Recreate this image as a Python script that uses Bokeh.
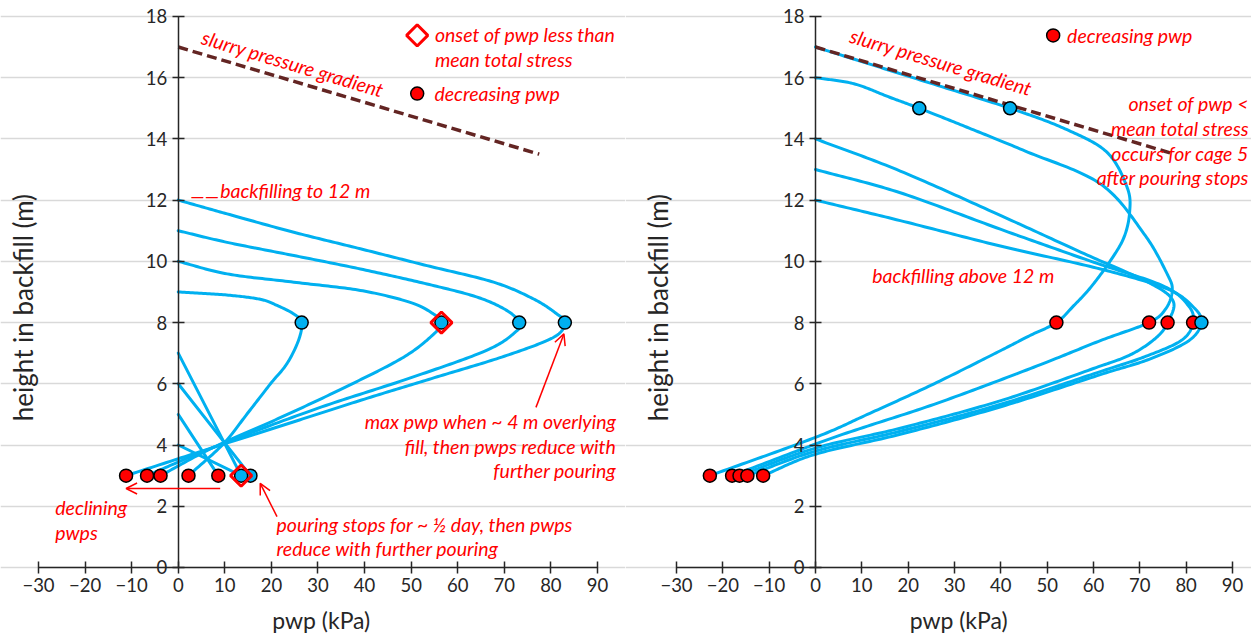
import numpy as np
from bokeh.plotting import figure
from bokeh.layouts import row
from bokeh.models import (LinearAxis, Range1d, Label, Arrow, OpenHead,
                          FixedTicker, Grid, AllLabels)
from bokeh.embed import file_html
from bokeh.resources import INLINE

BLUE = "#00B0F0"
RED = "#FF0000"
SLURRY = "#632523"
FONT = "Lato"
INK = "#262626"

# ---- data: pwp (kPa) against height in backfill (m) ----
x_ticks = list(range(-30, 91, 10))
y_ticks = list(range(0, 19, 2))

slurry_pwp = [0, 77.5]
slurry_h = [17, 13.5]

# backfilling to 12 m
L4_p, L4_h = [0, 13.5], [4, 3]
L5_p, L5_h = [0, 8.6], [5, 3]
L6_p, L6_h = [0, 15.5], [6, 3]
L7_p, L7_h = [0, 13.5], [7, 3]
L9_p = [0, 10.4, 17.6, 21.2, 24.8, 26.5, 25.8, 23.3, 19.8, 14.8, 9.7, 2.2]
L9_h = [9, 8.9, 8.76, 8.56, 8.28, 8, 7.41, 6.65, 6.0, 5.02, 4.04, 3]
L10_p = [0, 10.5, 24.8, 39.1, 49.8, 54.8, 56.5, 54.9, 48.4, 36, 22, 7.5, -3.8]
L10_h = [10, 9.59, 9.32, 9.05, 8.66, 8.28, 8, 7.63, 6.87, 5.9, 4.9, 3.92, 3]
L11_p = [0, 10.5, 24.8, 39.1, 53.4, 64.2, 70.6, 73.2, 72.6, 66.3, 50, 29, 7.5, -6.7]
L11_h = [11, 10.62, 10.19, 9.75, 9.26, 8.83, 8.39, 8, 7.72, 7.1, 6.2, 5.15, 3.92, 3]
L12_p = [0, 10.5, 24.8, 39.1, 53.4, 67.7, 76.3, 81.3, 83.0, 80.6, 70, 55, 40, 24, 7.5, -11.2]
L12_h = [12, 11.55, 10.95, 10.41, 9.86, 9.32, 8.77, 8.28, 8, 7.52, 6.9, 6.2, 5.5, 4.72, 3.92, 3]

left_blue_p = [15.5, 26.5, 56.5, 73.2, 83.0, 13.5]
left_blue_h = [3, 8, 8, 8, 8, 3]
left_red_p = [-11.2, -6.7, -3.8, 2.2, 8.6]
left_red_h = [3, 3, 3, 3, 3]
left_onset_p = [56.5, 13.5]
left_onset_h = [8, 3]

# backfilling above 12 m
R12_p = [0, 18.3, 39.9, 61.5, 75.9, 81.6, 83.3, 80.5, 72, 61.5, 40, 18.3, 0, -11.3]
R12_h = [12, 11.33, 10.5, 9.75, 9.1, 8.5, 8, 7.4, 6.8, 6.3, 5.25, 4.35, 3.7, 3]
R13_p = [0, 18.3, 39.9, 59.5, 75, 80.5, 81.5, 79, 71, 61.5, 40, 18.3, 0, -14.7]
R13_h = [13, 12.24, 11.05, 10.0, 9.2, 8.55, 8, 7.42, 6.88, 6.4, 5.33, 4.45, 3.8, 3]
R14_p = [0, 18.3, 39.9, 58, 72, 77.2, 76, 73.5, 68, 60, 40, 18.3, 0, -16.4]
R14_h = [14, 12.95, 11.5, 10.25, 9.3, 8.7, 8, 7.5, 6.95, 6.5, 5.45, 4.55, 3.9, 3]
R16_p = [0, 8.3, 16, 22.4, 32.7, 45.3, 61.5, 70.9, 75.9, 77, 75.6, 72, 61.5, 47.1, 25.6, 4, -18]
R16_h = [16, 15.8, 15.36, 15, 14.38, 13.6, 12.53, 10.9, 9.59, 9.05, 8.45, 8, 7.41, 6.54, 5.33, 4.25, 3]
R17_p = [0, 21, 42, 54.3, 63, 67.3, 67.8, 66.6, 63.7, 59.4, 55.8, 52, 46.2, 39.9, 25.6, 11.2, 0, -22.8]
R17_h = [17, 16.0, 15, 14.3, 13.55, 12.4, 11.6, 10.79, 10.03, 9.15, 8.56, 8, 7.57, 7.08, 6.0, 5.0, 4.25, 3]

right_red_p = [52, 72, 76, 81.5, -22.8, -18, -16.4, -14.7, -11.3]
right_red_h = [8, 8, 8, 8, 3, 3, 3, 3, 3]
right_blue_p = [22.4, 42, 83.3]
right_blue_h = [15, 15, 8]

# legend keys
key_onset = (51.3, 17.38)
key_red_left = (51.3, 15.48)
key_red_right = (51.3, 17.38)


def smooth(xs, ys, n=24):
    """Catmull-Rom curve through the profile points."""
    P = np.column_stack([xs, ys]).astype(float)
    if len(P) < 3:
        return list(P[:, 0]), list(P[:, 1])
    P = np.vstack([2 * P[0] - P[1], P, 2 * P[-1] - P[-2]])
    t = np.linspace(0, 1, n, endpoint=False)[:, None]
    out = []
    for i in range(1, len(P) - 2):
        p0, p1, p2, p3 = P[i - 1], P[i], P[i + 1], P[i + 2]
        out.append(0.5 * (2 * p1 + (-p0 + p2) * t
                          + (2 * p0 - 5 * p1 + 4 * p2 - p3) * t ** 2
                          + (-p0 + 3 * p1 - 3 * p2 + p3) * t ** 3))
    out.append(P[-2][None, :])
    out = np.vstack(out)
    return list(out[:, 0]), list(out[:, 1])


def panel(width, x_start, x_end, ylabel_x, xlabel_x):
    # the frame fills the whole canvas; axes sit at pwp = 0 and height = 0
    # and stop at the last tick, so the titles and notes can live in it
    p = figure(width=width, height=637, x_range=Range1d(x_start, x_end),
               y_range=Range1d(-2.287, 18.52),
               output_backend="svg", toolbar_location=None,
               x_axis_location=None, y_axis_location=None,
               min_border_left=0, min_border_right=0,
               min_border_top=0, min_border_bottom=0)
    p.center = [r for r in p.center if not isinstance(r, Grid)]
    p.outline_line_color = None
    p.background_fill_color = "white"
    p.border_fill_color = "white"

    yticker = FixedTicker(ticks=y_ticks)
    p.add_layout(Grid(dimension=1, ticker=yticker, grid_line_color="#D9D9D9",
                      grid_line_width=1.5, bounds=(-30, 90)))

    xaxis = LinearAxis(ticker=FixedTicker(ticks=x_ticks), fixed_location=0,
                       bounds=(-30, 90))
    yaxis = LinearAxis(ticker=yticker, fixed_location=0, bounds=(0, 18))
    for ax in (xaxis, yaxis):
        ax.axis_line_color = INK
        ax.axis_line_width = 1.5
        ax.major_tick_line_color = INK
        ax.major_tick_line_width = 1.5
        ax.major_tick_in = 6
        ax.major_tick_out = 6
        ax.minor_tick_line_color = None
        ax.major_label_text_font = FONT
        ax.major_label_text_font_size = "18.5px"
        ax.major_label_text_color = INK
        ax.major_label_policy = AllLabels()
    xaxis.major_label_standoff = 5
    yaxis.major_label_standoff = 5
    p.add_layout(xaxis, "below")
    p.add_layout(yaxis, "left")

    p.add_layout(Label(x=ylabel_x, y=8.49, text="height in backfill (m)", angle=np.pi / 2,
                       text_font=FONT, text_font_size="26px", text_color=INK,
                       text_align="center", text_baseline="middle"))
    p.add_layout(Label(x=xlabel_x, y=-1.73, text="pwp (kPa)",
                       text_font=FONT, text_font_size="23px", text_color=INK,
                       text_align="center", text_baseline="middle"))
    return p


def profile(p, xs, ys):
    sx, sy = smooth(xs, ys)
    p.line(sx, sy, line_color=BLUE, line_width=3, line_cap="round", line_join="round")


def note(p, x, y, text, align="left", angle=0.0):
    p.add_layout(Label(x=x, y=y, text=text, text_font=FONT, text_font_style="italic",
                       text_font_size="19.5px", text_color=RED, text_align=align,
                       text_baseline="middle", angle=angle))


def pointer(p, x0, y0, x1, y1):
    p.add_layout(Arrow(end=OpenHead(size=11, line_color=RED, line_width=1.5),
                       x_start=x0, y_start=y0, x_end=x1, y_end=y1,
                       line_color=RED, line_width=1.5))


def dots(p, xs, ys, color):
    p.scatter(xs, ys, marker="circle", size=13, fill_color=color,
              line_color="black", line_width=1.5)


def onset(p, xs, ys):
    p.scatter(xs, ys, marker="square", angle=np.pi / 4, size=15, fill_color=None,
              line_color=RED, line_width=3)


slope_angle = -0.29

# ---- left panel: backfilling to 12 m ----
left = panel(625, -38.16, 96.02, -33.4, 30.7)
for xs, ys in [(L4_p, L4_h), (L5_p, L5_h), (L6_p, L6_h), (L7_p, L7_h), (L9_p, L9_h),
               (L10_p, L10_h), (L11_p, L11_h), (L12_p, L12_h)]:
    profile(left, xs, ys)
left.line(slurry_pwp, slurry_h, line_color=SLURRY, line_width=3.5, line_dash="10 5")
dots(left, left_red_p, left_red_h, RED)
dots(left, left_blue_p, left_blue_h, BLUE)
onset(left, left_onset_p, left_onset_h)
onset(left, [key_onset[0]], [key_onset[1]])
dots(left, [key_red_left[0]], [key_red_left[1]], RED)

note(left, 55.1, 17.40, "onset of pwp less than")
note(left, 55.1, 16.59, "mean total stress")
note(left, 55.0, 15.47, "decreasing pwp")
note(left, 24.6, 16.46, "slurry pressure gradient", align="center", angle=slope_angle)
note(left, 2.6, 12.14, "\u2014\u2014")
note(left, 9.0, 12.31, "backfilling to 12 m")
note(left, 94.0, 4.77, "max pwp when ~ 4 m overlying", align="right")
note(left, 94.0, 3.96, "fill, then pwps reduce with", align="right")
note(left, 94.0, 3.16, "further pouring", align="right")
note(left, -26.4, 1.95, "declining")
note(left, -26.4, 1.14, "pwps")
note(left, 21.1, 1.40, "pouring stops for ~ \u00bd day, then pwps")
note(left, 21.1, 0.61, "reduce with further pouring")
pointer(left, 9.0, 2.58, -11.2, 2.58)
pointer(left, 21.2, 1.66, 17.6, 2.75)
pointer(left, 76.8, 5.23, 82.8, 7.63)

# ---- right panel: backfilling above 12 m ----
right = panel(626, -41.01, 94.11, -33.9, 30.9)
for xs, ys in [(R12_p, R12_h), (R13_p, R13_h), (R14_p, R14_h), (R16_p, R16_h), (R17_p, R17_h)]:
    profile(right, xs, ys)
right.line(slurry_pwp, slurry_h, line_color=SLURRY, line_width=3.5, line_dash="10 5")
dots(right, right_red_p, right_red_h, RED)
dots(right, right_blue_p, right_blue_h, BLUE)
dots(right, [key_red_right[0]], [key_red_right[1]], RED)

note(right, 54.3, 17.38, "decreasing pwp")
note(right, 27.1, 16.51, "slurry pressure gradient", align="center", angle=slope_angle)
note(right, 93.5, 15.16, "onset of pwp <", align="right")
note(right, 93.5, 14.34, "mean total stress", align="right")
note(right, 93.5, 13.52, "occurs for cage 5", align="right")
note(right, 93.5, 12.74, "after pouring stops", align="right")
note(right, 31.9, 9.54, "backfilling above 12 m", align="center")

layout = row(left, right)
open("out.html", "w").write(file_html(layout, INLINE))
